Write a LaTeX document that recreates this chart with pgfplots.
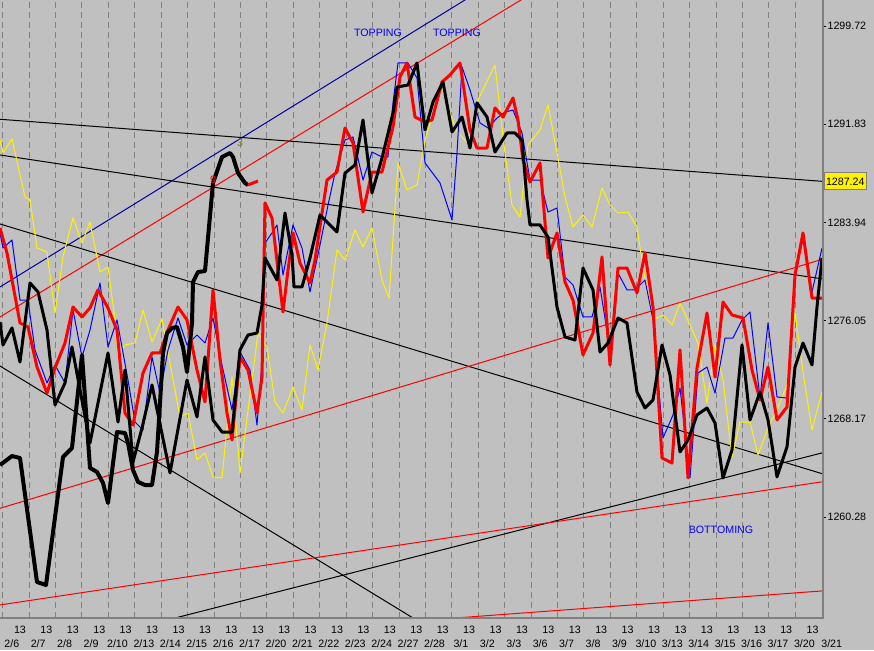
\documentclass[border=0pt]{standalone}
\usepackage{fontspec}
\setmainfont{Liberation Sans}
\usepackage{pgfplots}
\pgfplotsset{compat=1.18}
\definecolor{winbg}{HTML}{C0C0C0}
\definecolor{gridgray}{HTML}{808080}
\definecolor{navyline}{HTML}{0000A0}
\definecolor{olivetxt}{HTML}{808000}

\begin{document}
\begin{tikzpicture}[font=\fontsize{8}{9.6}\selectfont]
\fill[winbg] (0,-24pt) rectangle (655.5pt,463.5pt);
\begin{axis}[
	at={(0,0)}, anchor=south west,
	scale only axis,
	width=617.25pt, height=463.5pt,
	xmin=0, xmax=823,
	ymin=1252.17, ymax=1301.81,
	axis line style={draw=none},
	clip mode=individual,
	tick align=outside,
	major tick length=2.25pt,
	x tick style={draw=none},
	y tick style={black, line width=0.75pt},
	xtick={20,46.42,...,813},
	xticklabels={13,13,13,13,13,13,13,13,13,13,13,13,13,13,13,13,13,13,13,13,13,13,13,13,13,13,13,13,13,13,13},
	extra x ticks={11.8,38.22,...,806},
	extra x tick labels={2/6,2/7,2/8,2/9,2/10,2/13,2/14,2/15,2/16,2/17,2/20,2/21,2/22,2/23,2/24,2/27,2/28,3/1,3/2,3/3,3/6,3/7,3/8,3/9,3/10,3/13,3/14,3/15,3/16,3/17,3/20},
	extra x tick style={grid=none, xticklabel style={yshift=-10.5pt}},
	minor xtick={2.7,29.12,...,796},
	xminorgrids=true,
	minor x grid style={gridgray, line width=0.75pt, dash pattern=on 4.5pt off 3pt},
	ytick={1260.28,1268.17,1276.05,1283.94,1291.83,1299.72},
	yticklabels={1260.28,1268.17,1276.05,1283.94,1291.83,1299.72},
	ytick pos=right,
	yticklabel pos=right,
	yticklabel style={anchor=west, inner xsep=1pt},
	/pgf/number format/assume math mode=true,
	every axis plot/.append style={line join=round},
]
% trend lines
\addplot[navyline, line width=0.75pt] coordinates {(0,1278.76)(520,1304.54)};
\addplot[red, line width=0.75pt] coordinates {(0,1276.35)(560,1303.72)};
\addplot[black, line width=0.75pt] coordinates {(0,1292.23)(823,1287.24)};
\addplot[black, line width=0.75pt] coordinates {(0,1289.36)(823,1279.40)};
\addplot[black, line width=0.75pt] coordinates {(0,1283.82)(823,1263.74)};
\addplot[black, line width=0.75pt] coordinates {(0,1272.41)(440,1250.85)};
\addplot[black, line width=0.75pt] coordinates {(160,1251.86)(823,1265.45)};
\addplot[red, line width=0.75pt] coordinates {(0,1260.98)(823,1281.00)};
\addplot[red, line width=0.75pt] coordinates {(0,1253.22)(823,1263.12)};
\addplot[red, line width=0.75pt] coordinates {(440,1252.08)(823,1254.35)};

% yellow
\addplot[yellow, line width=0.75pt] coordinates {
(0,1290.57)(3,1289.52)(12,1290.65)(25,1285.99)(30,1285.75)(37,1281.89)(47,1281.57)(55,1276.67)(63,1281.17)(73,1284.30)(82,1282.29)(90,1283.98)(100,1279.96)(108,1280.36)(115,1276.11)(118,1273.30)(125,1274.10)(135,1274.26)(143,1276.91)(152,1274.34)(162,1276.19)(170,1272.65)(180,1268.32)(188,1268.64)(197,1264.86)(205,1265.43)(213,1263.50)(222,1263.42)(232,1271.53)(240,1263.82)(258,1275.06)(267,1273.94)(275,1269.52)(283,1268.64)(293,1270.73)(302,1268.88)(310,1274.10)(318,1272.09)(327,1275.87)(337,1281.73)(345,1280.93)(355,1283.34)(363,1281.97)(372,1283.50)(382,1279.32)(389,1277.87)(398,1288.72)(407,1286.55)(417,1286.95)(425,1290.57)(432,1292.41)(442,1294.82)(450,1292.73)(457,1291.21)(468,1290.32)(477,1293.62)(495,1296.59)(503,1290.81)(512,1285.34)(520,1284.38)(528,1290.16)(540,1291.37)(548,1293.38)(558,1289.12)(565,1285.99)(573,1283.58)(583,1284.54)(592,1283.58)(602,1286.71)(610,1285.34)(618,1284.70)(628,1284.78)(637,1283.58)(643,1280.36)(653,1276.11)(663,1276.51)(672,1275.71)(680,1277.47)(690,1275.71)(698,1274.26)(707,1269.44)(715,1274.10)(723,1271.29)(732,1265.10)(740,1267.91)(750,1267.91)(758,1265.26)(768,1267.43)(777,1268.88)(787,1270.89)(795,1276.75)(803,1271.93)(812,1267.27)(822,1270.32)};

% blue
\addplot[blue, line width=0.75pt] coordinates {
(0,1283.10)(3,1281.89)(12,1282.53)(20,1277.71)(28,1277.71)(35,1273.70)(47,1271.05)(55,1272.49)(65,1271.05)(73,1276.91)(82,1273.14)(90,1275.30)(100,1279.08)(108,1273.94)(117,1276.11)(128,1271.29)(135,1267.91)(143,1267.27)(152,1273.14)(160,1270.24)(168,1273.70)(178,1276.27)(187,1274.10)(197,1274.90)(205,1274.26)(213,1276.27)(222,1272.49)(232,1268.88)(240,1273.54)(250,1272.09)(257,1267.67)(262,1272.73)(265,1282.29)(272,1283.10)(277,1283.74)(283,1279.72)(293,1283.74)(302,1281.89)(310,1278.36)(320,1282.13)(328,1285.34)(335,1287.91)(345,1290.57)(353,1290.81)(363,1287.35)(372,1289.60)(382,1289.20)(388,1289.20)(393,1293.54)(398,1296.75)(408,1296.75)(417,1295.54)(425,1288.72)(440,1287.11)(452,1284.14)(457,1289.52)(462,1296.43)(470,1294.58)(480,1291.93)(488,1291.53)(497,1292.33)(505,1292.81)(513,1292.97)(522,1291.13)(530,1287.35)(540,1287.35)(548,1284.78)(557,1285.10)(565,1279.56)(573,1278.92)(583,1276.35)(592,1276.35)(600,1278.76)(610,1273.70)(618,1279.88)(627,1278.52)(635,1278.52)(645,1279.32)(653,1276.11)(663,1266.63)(673,1268.48)(680,1270.65)(690,1263.42)(698,1271.85)(707,1272.33)(715,1270.24)(725,1274.66)(733,1274.66)(742,1276.11)(750,1276.75)(760,1269.84)(768,1275.87)(777,1269.92)(787,1269.84)(795,1279.56)(803,1282.69)(812,1278.36)(822,1281.89)};

% red
\addplot[red, line width=2.25pt] coordinates {
(0,1283.50)(7,1281.49)(20,1275.87)(28,1275.55)(37,1272.33)(47,1270.24)(55,1272.25)(65,1274.26)(73,1277.15)(82,1276.35)(90,1277.07)(98,1278.52)(108,1277.07)(117,1275.30)(125,1268.64)(133,1267.67)(143,1271.85)(152,1273.46)(160,1273.46)(168,1275.30)(178,1277.15)(187,1276.11)(197,1272.09)(205,1269.52)(213,1278.52)(220,1272.89)(227,1268.64)(232,1266.47)(240,1273.14)(248,1272.09)(257,1268.64)(262,1271.53)(265,1285.51)(272,1284.30)(278,1280.12)(283,1276.75)(288,1280.12)(293,1283.10)(300,1280.69)(310,1279.08)(315,1280.93)(327,1287.35)(337,1287.99)(345,1291.53)(353,1290.32)(363,1284.78)(372,1287.99)(382,1287.99)(393,1291.61)(400,1295.63)(407,1296.75)(415,1292.41)(425,1292.01)(432,1292.17)(442,1295.22)(450,1295.79)(460,1296.75)(470,1291.37)(477,1289.92)(487,1289.92)(495,1293.14)(503,1292.41)(513,1293.94)(518,1292.17)(523,1288.96)(530,1287.19)(540,1288.72)(548,1281.09)(557,1283.10)(565,1279.16)(573,1277.71)(583,1273.30)(593,1275.06)(602,1281.17)(610,1272.49)(618,1280.28)(627,1280.28)(637,1278.28)(645,1281.49)(653,1277.15)(662,1265.02)(672,1264.62)(680,1273.70)(688,1263.42)(697,1272.25)(707,1276.67)(715,1271.53)(723,1277.55)(732,1276.51)(743,1276.27)(752,1272.09)(760,1269.68)(768,1272.33)(777,1268.08)(787,1269.12)(795,1279.72)(803,1283.10)(812,1277.87)(822,1277.87)};

% black, main
\addplot[black, line width=2.25pt] coordinates {
(0,1275.95)(3,1274.10)(12,1275.47)(20,1272.73)(30,1279.08)(38,1278.36)(47,1275.30)(55,1269.28)(65,1271.05)(72,1273.94)(90,1266.23)(108,1273.46)(118,1267.91)(125,1272.09)(133,1264.70)(142,1267.43)(152,1270.89)(170,1263.82)(187,1271.29)(197,1268.32)(205,1273.14)(213,1268.08)(222,1267.11)(232,1267.11)(240,1273.70)(248,1274.90)(257,1275.06)(262,1277.31)(265,1281.09)(277,1279.32)(285,1284.70)(292,1281.33)(294,1278.76)(302,1278.76)(310,1281.09)(320,1284.54)(337,1283.18)(345,1287.91)(355,1288.56)(363,1292.17)(372,1286.31)(382,1289.12)(393,1292.73)(397,1294.82)(408,1294.98)(417,1296.75)(425,1291.37)(433,1293.62)(443,1295.22)(452,1291.21)(462,1292.41)(470,1289.92)(477,1293.54)(487,1292.41)(495,1289.60)(507,1291.13)(515,1291.13)(522,1290.57)(527,1285.75)(530,1283.74)(540,1283.74)(548,1282.77)(557,1277.15)(565,1274.74)(575,1274.50)(583,1280.28)(593,1278.52)(600,1273.54)(608,1274.26)(618,1276.27)(627,1275.87)(637,1270.32)(645,1269.04)(653,1269.68)(662,1274.10)(670,1271.69)(680,1265.51)(688,1266.47)(697,1268.48)(707,1269.04)(715,1267.83)(723,1263.42)(732,1265.67)(742,1274.10)(750,1268.08)(760,1270.32)(768,1268.08)(777,1263.50)(787,1265.91)(795,1272.33)(803,1274.26)(812,1272.49)(817,1277.15)(822,1281.09)};

% black, earlier period laid over
\addplot[black, line width=3pt] coordinates {
(0,1264.46)(12,1265.18)(20,1265.02)(37,1255.06)(46,1254.82)(63,1265.10)(72,1265.83)(82,1273.30)(90,1264.22)(97,1263.90)(103,1263.02)(108,1261.41)(117,1267.11)(125,1267.03)(128,1266.23)(133,1264.06)(138,1263.10)(145,1262.85)(152,1262.85)(157,1265.51)(160,1269.44)(163,1273.46)(167,1275.06)(172,1275.47)(177,1275.55)(183,1273.94)(187,1271.93)(192,1275.87)(193,1279.16)(198,1279.96)(205,1280.04)(213,1287.11)(222,1289.20)(230,1289.52)(233,1289.20)(238,1287.91)(245,1287.11)(248,1286.95)};
\addplot[red, line width=2.25pt] coordinates {(248,1286.95)(258,1287.27)};

% borders and texts
\draw[gridgray, line width=1.5pt] (rel axis cs:0,0) -- (rel axis cs:1,0) -- (rel axis cs:1,1);
\node[blue] at (axis cs:378,1299.16) {TOPPING};
\node[blue] at (axis cs:457,1299.16) {TOPPING};
\node[blue] at (axis cs:721,1259.24) {BOTTOMING};
\node[olivetxt] at (axis cs:240,1290.32) {3};
\node[red] at (axis cs:213,1287.35) {9};
\node[anchor=west, fill=yellow, draw=gridgray, line width=0.75pt, inner xsep=1.5pt, inner ysep=0pt, minimum height=12.75pt] at (axis cs:823.5,1287.24) {1287.24};
\node[anchor=north, yshift=-12.75pt] at (axis cs:831.7,1252.17) {3/21};
\end{axis}
\pgfresetboundingbox
\path[use as bounding box] (0,-24pt) rectangle (655.5pt,463.5pt);
\end{tikzpicture}
\end{document}
